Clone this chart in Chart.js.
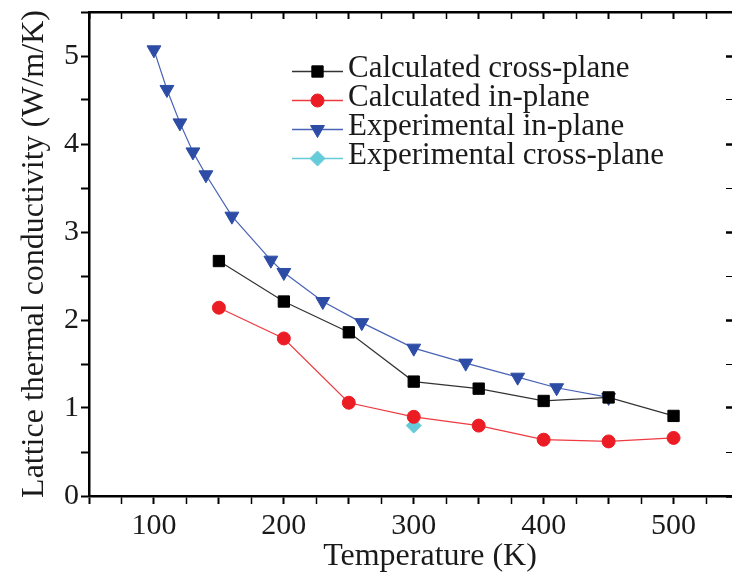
<!DOCTYPE html>
<html>
<head>
<meta charset="utf-8">
<script src="https://cdn.jsdelivr.net/npm/chart.js@4/dist/chart.umd.min.js"></script>
<style>
  html, body { margin: 0; padding: 0; background: #fff; overflow: hidden; }
  canvas { display: block; }
</style>
</head>
<body>
<canvas id="kappaChart" width="732" height="577"></canvas>
<script>
// temperatures (K) of the calculated points
const calcT = [150, 200, 250, 300, 350, 400, 450, 500];
const calcCross = [2.67, 2.21, 1.86, 1.30, 1.22, 1.08, 1.12, 0.91];
const calcIn = [2.14, 1.79, 1.06, 0.90, 0.80, 0.64, 0.62, 0.66];

// experimental in-plane
const expInT = [100, 110, 120, 130, 140, 160, 190, 200, 230, 260, 300, 340, 380, 410, 450];
const expInK = [5.07, 4.62, 4.24, 3.91, 3.65, 3.18, 2.68, 2.54, 2.21, 1.97, 1.68, 1.51, 1.35, 1.23, 1.12];

// experimental cross-plane
const expCrossT = [300];
const expCrossK = [0.80];

const xTitle = "Temperature (K)";
const yTitle = "Lattice thermal conductivity (W/m/K)";

const serif = '"Liberation Serif", "Times New Roman", serif';
const textColor = "#1a1a1a";

const pts = (xs, ys) => xs.map((x, i) => ({ x, y: ys[i] }));

// legend drawn inside the plot area, plus the x title (sits right of centre in the original)
const innerLegend = {
  id: "innerLegend",
  afterDraw(chart) {
    const ctx = chart.ctx;
    chart.data.datasets.forEach((ds, i) => {
      const y = 71.5 + i * 29;
      ctx.save();
      ctx.strokeStyle = ds.borderColor;
      ctx.lineWidth = 1.3;
      ctx.beginPath();
      ctx.moveTo(292, y);
      ctx.lineTo(343, y);
      ctx.stroke();
      ctx.fillStyle = ds.pointBackgroundColor;
      ctx.strokeStyle = ds.pointBorderColor;
      ctx.lineWidth = 1;
      Chart.helpers.drawPoint(ctx, {
        pointStyle: ds.pointStyle,
        radius: ds.pointRadius,
        rotation: ds.pointRotation || 0,
        borderWidth: 1
      }, 317.5, y);
      ctx.fillStyle = textColor;
      ctx.font = "31px " + serif;
      ctx.textBaseline = "alphabetic";
      ctx.fillText(ds.label, 348, y + 5);
      ctx.restore();
    });

    ctx.save();
    ctx.fillStyle = textColor;
    ctx.font = "32px " + serif;
    ctx.textAlign = "center";
    ctx.textBaseline = "alphabetic";
    ctx.fillText(xTitle, 430, 565);
    ctx.restore();
  }
};

const ctx = document.getElementById("kappaChart").getContext("2d");

new Chart(ctx, {
  type: "line",
  data: {
    datasets: [{
      label: "Calculated cross-plane",
      data: pts(calcT, calcCross),
      borderColor: "#333333",
      borderWidth: 1.2,
      pointStyle: "rect",
      pointRadius: 8,
      pointBackgroundColor: "#000000",
      pointBorderColor: "#000000",
      pointBorderWidth: 1
    }, {
      label: "Calculated in-plane",
      data: pts(calcT, calcIn),
      borderColor: "#ee3a40",
      borderWidth: 1.2,
      pointStyle: "circle",
      pointRadius: 6.5,
      pointBackgroundColor: "#ec1c24",
      pointBorderColor: "#ec1c24",
      pointBorderWidth: 1
    }, {
      label: "Experimental in-plane",
      data: pts(expInT, expInK),
      borderColor: "#4862b6",
      borderWidth: 1.2,
      pointStyle: "triangle",
      pointRotation: 180,
      pointRadius: 8,
      pointBackgroundColor: "#2d4ca6",
      pointBorderColor: "#2d4ca6",
      pointBorderWidth: 1
    }, {
      label: "Experimental cross-plane",
      data: pts(expCrossT, expCrossK),
      borderColor: "#66cbd8",
      borderWidth: 1.2,
      showLine: false,
      pointStyle: "rectRot",
      pointRadius: 7.5,
      pointBackgroundColor: "#66cbd8",
      pointBorderColor: "#66cbd8",
      pointBorderWidth: 1
    }]
  },
  options: {
    responsive: false,
    animation: false,
    layout: { padding: 0, autoPadding: false },
    elements: { line: { tension: 0 } },
    scales: {
      x: {
        type: "linear",
        position: "bottom",
        min: 50,
        max: 545,
        ticks: {
          stepSize: 25,
          includeBounds: false,
          autoSkip: false,
          maxRotation: 0,
          padding: 4,
          color: textColor,
          font: { family: serif, size: 30 },
          callback: v => (v % 100 === 0 ? v : "")
        },
        grid: {
          drawOnChartArea: false,
          tickLength: 8,
          tickColor: "#000",
          tickWidth: c => (c.tick && c.tick.value % 50 === 0 ? 2 : 1.5)
        },
        border: { color: "#000", width: 2.5 },
        afterFit: s => { s.height = 81; s.paddingLeft = 0; s.paddingRight = 0; }
      },
      x2: {
        type: "linear",
        position: "top",
        min: 50,
        max: 545,
        ticks: { display: false, stepSize: 25, includeBounds: false },
        grid: {
          drawOnChartArea: false,
          tickLength: -7,
          tickColor: "#000",
          tickWidth: c => (c.tick && c.tick.value % 50 === 0 ? 2 : 1.5)
        },
        border: { color: "#000", width: 2.5 },
        afterFit: s => { s.height = 12; s.paddingLeft = 0; s.paddingRight = 0; }
      },
      y: {
        type: "linear",
        position: "left",
        min: 0,
        max: 5.5,
        ticks: {
          stepSize: 0.5,
          padding: 2,
          color: textColor,
          font: { family: serif, size: 30 },
          callback: v => (Number.isInteger(v) ? v : "")
        },
        grid: {
          drawOnChartArea: false,
          tickLength: 8,
          tickColor: "#000",
          tickWidth: 2
        },
        border: { color: "#000", width: 2.5 },
        title: {
          display: true,
          text: yTitle,
          color: textColor,
          font: { family: serif, size: 32, lineHeight: 1 },
          padding: { top: 19, bottom: 0 }
        },
        afterFit: s => { s.width = 89; s.paddingTop = 0; s.paddingBottom = 0; }
      },
      y2: {
        type: "linear",
        position: "right",
        min: 0,
        max: 5.5,
        ticks: { display: false, stepSize: 0.5 },
        grid: {
          drawOnChartArea: false,
          tickLength: -6,
          tickColor: "#000",
          tickWidth: c => (c.tick && Number.isInteger(c.tick.value) ? 2.5 : 1)
        },
        border: { display: false },
        afterFit: s => { s.width = 0; s.paddingTop = 0; s.paddingBottom = 0; }
      }
    },
    plugins: {
      legend: { display: false },
      tooltip: { enabled: false }
    }
  },
  plugins: [innerLegend]
});
</script>
</body>
</html>
